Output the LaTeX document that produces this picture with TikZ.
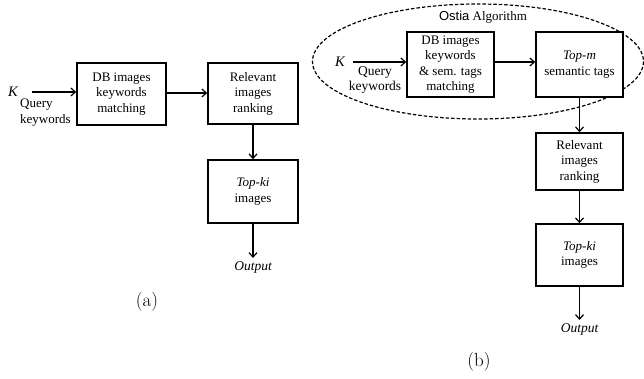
\documentclass[tikz,border=0pt]{standalone}
\usepackage{fontspec}
\newfontfamily\tnr{Liberation Serif}
\newfontfamily\arl{Liberation Sans}
\usepackage{tikz}
\usetikzlibrary{arrows.meta}
\usetikzlibrary{positioning}
\tikzset{
    mybox/.style = {rectangle, draw=black, line width=1.5pt, align=center, fill=white, inner sep=1pt, font=\tnr\fontsize{13}{15.5}\selectfont},
    mytext/.style = {align=center, inner sep=0pt, font=\tnr\fontsize{13}{15.5}\selectfont},
    mykey/.style = {inner sep=0pt, font=\tnr\itshape\fontsize{14.5}{16}\selectfont},
    mylabel/.style = {inner sep=0pt, font=\fontsize{19}{22}\selectfont},
}
\begin{document}
\begin{tikzpicture}[
	x=1pt, y=-1pt,
	>={Straight Barb[length=4.5pt,width=8pt]}
]
\tikzset{
    edgea/.style = {->, line width=1.2pt},
    edged/.style = {-, line width=1.2pt, dash pattern=on 3.5pt off 2pt},
}
\useasboundingbox (0,0) rectangle (644,379);
% (a)
\node[mykey] at (13,92) (ka) {K};
\coordinate (ina) at (32,92);
\node[mytext, align=left, anchor=north west] at (20,99) (qa) {Query\\keywords};
\node[mybox, minimum width=89, minimum height=62] at (121.5,94) (ma) {DB images\\keywords\\matching};
\node[mybox, minimum width=90, minimum height=61] at (253,93.5) (ra) {Relevant\\images\\ranking};
\node[mybox, minimum width=90, minimum height=63] at (253,191.5) (ta) {\itshape Top-ki\\images};
\node[mytext, font=\tnr\itshape\fontsize{13.5}{15}\selectfont, anchor=north, inner sep=3pt] at (253,258) (oa) {Output};
\node[mylabel] at (147,302) (la) {(a)};
%
\draw[edgea] (ina) -- (ina -| ma.west);
\draw[edgea] (ma.east |- 0,93) -- (ra.west |- 0,93);
\draw[edgea] (ra) -- (ta);
\draw[edgea] (ta) -- (oa);
% (b)
\draw[edged] (478,61.5) ellipse [x radius=165.5, y radius=57.5];
\node[mytext] at (483,17) (alg) {{\arl Ostia} Algorithm};
\node[mykey] at (340,62) (kb) {K};
\coordinate (inb) at (353,62);
\node[mytext, anchor=north, font=\tnr\fontsize{13.5}{15}\selectfont] at (375,66) (qb) {Query\\keywords};
\node[mybox, minimum width=87, minimum height=65] at (450.5,64.5) (mb) {DB images\\keywords\\\& sem. tags\\matching};
\node[mybox, minimum width=87, minimum height=65] at (579.5,64.5) (sb) {\itshape Top-m\\semantic tags};
\node[mybox, minimum width=87, minimum height=57] at (579.5,161.5) (rb) {Relevant\\images\\ranking};
\node[mybox, minimum width=87, minimum height=62] at (579.5,255) (tb) {\itshape Top-ki\\images};
\node[mytext, font=\tnr\itshape\fontsize{13.5}{15}\selectfont, anchor=north, inner sep=3pt] at (579.5,320) (ob) {Output};
\node[mylabel] at (479,362) (lb) {(b)};
%
\draw[edgea] (inb) -- (inb -| mb.west);
\draw[edgea] (mb.east |- inb) -- (sb.west |- inb);
\draw[edgea] (sb) -- (rb);
\draw[edgea] (rb) -- (tb);
\draw[edgea] (tb) -- (ob);
\end{tikzpicture}
\end{document}
